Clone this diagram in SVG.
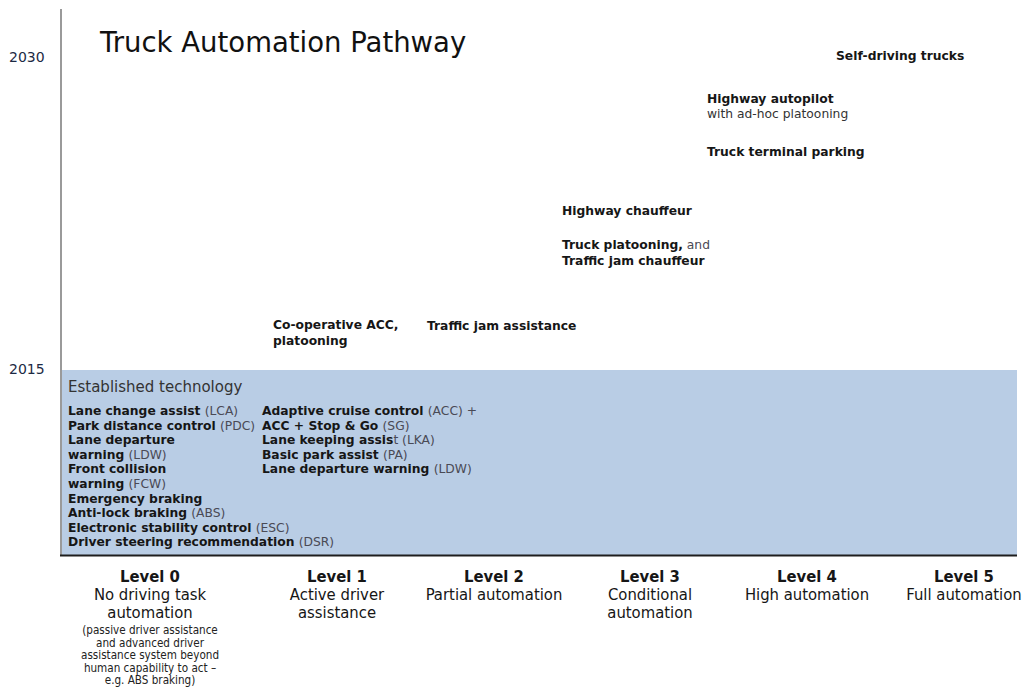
<svg xmlns="http://www.w3.org/2000/svg" width="1027" height="688" viewBox="0 0 1027 688">
<style>
.b{font-family:"DejaVu Sans",Verdana,sans-serif;font-weight:bold;font-size:12.3px;fill:#161616}
.r{font-family:"DejaVu Sans",Verdana,sans-serif;font-weight:normal;fill:#333}
.g{font-weight:normal;fill:#4a4a55}
.yr{font-family:"DejaVu Sans",Verdana,sans-serif;font-size:14px;fill:#1d2a44}
.lv{font-family:"DejaVu Sans Condensed","DejaVu Sans",sans-serif;font-size:16.5px;fill:#161616;text-anchor:middle}
.lb{font-weight:bold}
.nt{font-family:"DejaVu Sans Condensed","DejaVu Sans",sans-serif;font-size:11.6px;fill:#222;text-anchor:middle}
</style>
<rect width="1027" height="688" fill="#ffffff"/>
<g id="axis">
<rect x="62" y="370" width="955" height="185" fill="#b9cde5"/>
<line x1="61" y1="9" x2="61" y2="556" stroke="#9a9a9a" stroke-width="2"/>
<line x1="60" y1="555.5" x2="1017" y2="555.5" stroke="#1e1e1e" stroke-width="2"/>
<text class="yr" x="9" y="62">2030</text>
<text class="yr" x="9" y="374">2015</text>
</g>
<g id="title"><text x="100" y="52" font-family="DejaVu Sans,Verdana,sans-serif" font-size="27.5" fill="#111">Truck Automation Pathway</text></g>
<g id="n-self-driving"><text class="b" x="836" y="60">Self-driving trucks</text></g>
<g id="n-highway-autopilot"><text class="b" x="707" y="103">Highway autopilot</text><text class="r" font-size="12.3" x="707" y="118">with ad-hoc platooning</text></g>
<g id="n-terminal-parking"><text class="b" x="707" y="156">Truck terminal parking</text></g>
<g id="n-highway-chauffeur"><text class="b" x="562" y="215">Highway chauffeur</text></g>
<g id="n-platooning"><text class="b" x="562" y="249">Truck platooning,<tspan class="g"> and</tspan></text><text class="b" x="562" y="265">Traffic jam chauffeur</text></g>
<g id="n-coop-acc"><text class="b" x="273" y="329">Co-operative ACC,</text><text class="b" x="273" y="345">platooning</text></g>
<g id="n-tja"><text class="b" x="427" y="330">Traffic jam assistance</text></g>
<g id="n-established">
<text class="r" x="68" y="392" font-size="15" fill="#222">Established technology</text>
<text class="b" x="68" y="415">Lane change assist <tspan class="g">(LCA)</tspan></text>
<text class="b" x="68" y="429.6">Park distance control <tspan class="g">(PDC)</tspan></text>
<text class="b" x="68" y="444.2">Lane departure</text>
<text class="b" x="68" y="458.8">warning <tspan class="g">(LDW)</tspan></text>
<text class="b" x="68" y="473.4">Front collision</text>
<text class="b" x="68" y="488">warning <tspan class="g">(FCW)</tspan></text>
<text class="b" x="68" y="502.6">Emergency braking</text>
<text class="b" x="68" y="517.2">Anti-lock braking <tspan class="g">(ABS)</tspan></text>
<text class="b" x="68" y="531.8">Electronic stability control <tspan class="g">(ESC)</tspan></text>
<text class="b" x="68" y="546.4">Driver steering recommendation <tspan class="g">(DSR)</tspan></text>
<text class="b" x="262" y="415">Adaptive cruise control <tspan class="g">(ACC) +</tspan></text>
<text class="b" x="262" y="429.6">ACC + Stop &amp; Go <tspan class="g">(SG)</tspan></text>
<text class="b" x="262" y="444.2">Lane keeping assis<tspan class="g">t (LKA)</tspan></text>
<text class="b" x="262" y="458.8">Basic park assist <tspan class="g">(PA)</tspan></text>
<text class="b" x="262" y="473.4">Lane departure warning <tspan class="g">(LDW)</tspan></text>
</g>
<g id="level-0">
<text class="lv lb" x="150" y="582">Level 0</text>
<text class="lv" x="150" y="600">No driving task</text>
<text class="lv" x="150" y="618">automation</text>
<text class="nt" x="150" y="634">(passive driver assistance</text>
<text class="nt" x="150" y="646.5">and advanced driver</text>
<text class="nt" x="150" y="659">assistance system beyond</text>
<text class="nt" x="150" y="671.5">human capability to act –</text>
<text class="nt" x="150" y="684">e.g. ABS braking)</text>
</g>
<g id="level-1">
<text class="lv lb" x="337" y="582">Level 1</text>
<text class="lv" x="337" y="600">Active driver</text>
<text class="lv" x="337" y="618">assistance</text>
</g>
<g id="level-2">
<text class="lv lb" x="494" y="582">Level 2</text>
<text class="lv" x="494" y="600">Partial automation</text>
</g>
<g id="level-3">
<text class="lv lb" x="650" y="582">Level 3</text>
<text class="lv" x="650" y="600">Conditional</text>
<text class="lv" x="650" y="618">automation</text>
</g>
<g id="level-4">
<text class="lv lb" x="807" y="582">Level 4</text>
<text class="lv" x="807" y="600">High automation</text>
</g>
<g id="level-5">
<text class="lv lb" x="964" y="582">Level 5</text>
<text class="lv" x="964" y="600">Full automation</text>
</g>
<g id="connectors"></g>
</svg>
